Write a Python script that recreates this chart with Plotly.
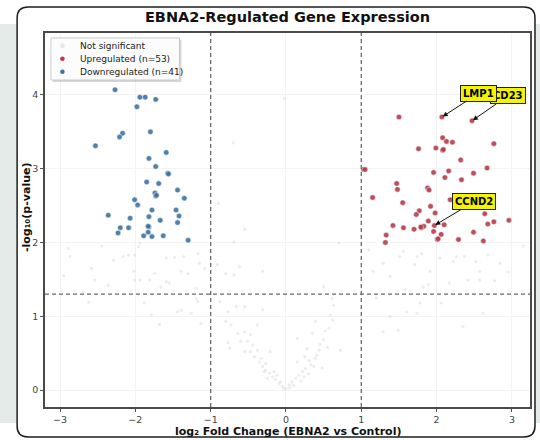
import plotly.graph_objects as go

# ---------------- data ----------------
down_fc = [-2.27, -1.94, -1.87, -1.73, -1.98, -2.17, -2.21, -1.80, -2.53, -1.59,
           -1.82, -1.73, -1.57, -1.85, -1.69, -1.74, -1.73, -1.44, -2.01, -1.97,
           -1.35, -1.78, -1.46, -2.36, -1.82, -1.42, -2.07, -1.67, -1.44, -2.20,
           -2.09, -1.82, -2.23, -1.83, -1.89, -1.78, -1.63, -1.30, -1.56, -1.83, -1.72]
down_p = [4.07, 3.97, 3.97, 3.94, 3.84, 3.48, 3.43, 3.50, 3.31, 3.22,
          3.14, 3.03, 2.94, 2.82, 2.80, 2.67, 2.63, 2.71, 2.58, 2.51,
          2.60, 2.44, 2.44, 2.37, 2.35, 2.36, 2.33, 2.30, 2.27, 2.20,
          2.20, 2.21, 2.13, 2.14, 2.09, 2.08, 2.09, 2.03, 2.93, 2.22, 2.64]

up_fc = [1.50, 2.07, 2.47, 2.08, 2.13, 2.21, 2.76, 1.76, 1.99, 2.08,
         2.32, 2.67, 1.03, 1.96, 2.16, 2.49, 2.11, 2.33, 1.47, 1.48,
         1.88, 1.90, 1.15, 1.55, 2.18, 1.92, 1.77, 1.73, 1.98, 2.64,
         1.89, 1.42, 1.56, 1.70, 1.80, 1.83, 1.97, 2.10, 1.96, 2.68,
         2.76, 2.96, 1.33, 1.32, 2.06, 2.49, 2.01, 2.29, 2.62, 1.05,
         2.09, 1.79, 2.02]
up_p = [3.70, 3.70, 3.65, 3.42, 3.37, 3.36, 3.34, 3.27, 3.28, 3.25,
        3.12, 3.01, 2.99, 2.95, 2.97, 2.94, 2.88, 2.85, 2.80, 2.72,
        2.74, 2.71, 2.61, 2.54, 2.58, 2.49, 2.43, 2.38, 2.40, 2.39,
        2.29, 2.23, 2.20, 2.18, 2.20, 2.22, 2.23, 2.24, 2.15, 2.25,
        2.28, 2.30, 2.10, 2.00, 2.11, 2.14, 2.04, 2.04, 2.02, 2.99,
        3.26, 2.21, 2.05]

ns_fc = [-2.89, -2.87, -2.58, -2.54, -2.62, -2.29, -2.16, -2.09, -2.01, -1.96,
         -1.94, -2.02, -2.01, -1.94, -2.36, -1.81, -1.74, -1.59, -1.48, -1.36,
         -1.39, -1.30, -1.59, -1.55, -1.66, -1.17, -1.15, -1.08, -1.19, -1.88,
         -1.79, -1.68, -1.44, -1.39, -1.26, -1.17, -1.13, -1.19, -2.69, -2.95, -2.45,
         -0.91, -0.80, -0.69, -0.62, -0.31, -0.69, -0.55, -0.88, -0.77, -0.66,
         -0.55, -0.80, -0.73, -0.64, -0.55, -0.60, -0.51, -0.44, -0.77, -0.75,
         -0.38, -0.31, -0.47, -0.42, -0.35, -0.31, -0.27, -0.22, -0.18, -0.14,
         -0.09, -0.05, 0.00, -0.29, -0.25, -0.21, -0.38, -0.55, -0.16, -0.12,
         -0.07, -0.33, -0.27, -0.47, -0.70, -0.02, -0.90,
         -0.03, 0.04, 0.08, 0.13, 0.17, 0.22, 0.26, 0.33, 0.37, 0.15,
         0.39, 0.41, 0.28, 0.44, 0.72, 0.50, 0.15, 0.35, 0.57, 0.39,
         0.59, 0.63, 0.61, 0.50, 0.70, 0.05, 0.10, 0.20, 0.24, 0.30,
         0.31, 0.45, 0.52, 0.62, 0.25, 0.48, 0.55,
         1.29, 1.49, 1.38, 1.60, 1.74, 1.78, 2.06, 2.35, 2.62, 1.58,
         1.82, 1.89, 2.17, 2.42, 2.57, 2.77, 1.16, 1.38, 1.29, 1.51,
         1.56, 1.71, 1.74, 1.80, 2.04, 2.22, 2.26, 2.37, 2.68, 1.91,
         2.57, 2.84, 3.15, 2.52, 2.95, 1.10, 1.20]
ns_p = [1.92, 1.81, 1.65, 1.49, 1.19, 1.76, 1.81, 1.83, 1.83, 1.94,
        1.99, 1.61, 1.49, 1.49, 1.42, 1.49, 1.58, 1.79, 1.80, 1.81,
        1.61, 1.58, 1.47, 1.45, 1.40, 1.85, 1.72, 1.65, 1.38, 1.18,
        1.02, 0.89, 1.06, 1.08, 1.04, 1.20, 0.90, 1.24, 1.33, 1.55, 1.95,
        1.70, 1.58, 1.56, 1.67, 1.61, 2.01, 2.18, 1.20, 1.06, 1.13,
        1.13, 0.93, 0.88, 0.77, 0.79, 0.66, 0.66, 0.61, 0.64, 0.57,
        0.88, 1.09, 0.52, 0.45, 0.38, 0.32, 0.27, 0.23, 0.18, 0.14,
        0.09, 0.05, 0.02, 0.25, 0.16, 0.52, 0.54, 0.52, 0.25, 0.20,
        0.11, 0.43, 0.36, 0.75, 3.35, 3.95, 2.53,
        0.02, 0.07, 0.11, 0.16, 0.20, 0.25, 0.29, 0.34, 0.32, 0.38,
        0.43, 0.47, 0.56, 0.54, 0.54, 0.68, 0.70, 0.77, 0.84, 0.93,
        1.02, 1.15, 1.24, 1.40, 1.99, 0.03, 0.06, 0.12, 0.18, 0.22,
        0.40, 0.62, 0.80, 0.95, 0.45, 0.30, 0.58,
        0.79, 0.81, 1.00, 1.06, 1.04, 1.18, 1.18, 0.86, 1.04, 1.36,
        1.40, 1.43, 1.45, 1.49, 1.49, 1.48, 1.61, 1.54, 1.72, 1.81,
        1.88, 1.70, 1.81, 1.85, 1.79, 1.74, 1.81, 1.81, 1.83, 1.61,
        1.61, 1.72, 1.95, 1.74, 1.60, 1.90, 1.25]

label_genes = ["CD23", "LMP1", "CCND2"]
label_index = [2, 1, 36]          # positions in the upregulated arrays
label_offsets = [(36, -25), (37, -24), (40, -24)]

fc_threshold = 1.0
p_threshold_line = 1.3            # -log10(0.05)

x_ticks = [-3, -2, -1, 0, 1, 2, 3]
y_ticks = [0, 1, 2, 3, 4]

title_text = "EBNA2-Regulated Gene Expression"
x_title = "log\u2082 Fold Change (EBNA2 vs Control)"
y_title = "-log\u2081\u2080(p-value)"

ns_color = "rgba(195,195,195,0.32)"
up_color = "#b13f4c"
down_color = "#3f73a1"

# ---------------- geometry helpers (plot area: l=45 r=532 t=33 b=407) ----------------
W, H = 540, 440
L, R, T, B = 45, 532, 33, 407
def fx(px):
    return (px - L) / (R - L)
def fy(py):
    return (B - py) / (B - T)

FONT = "DejaVu Sans"

fig = go.Figure()

fig.add_trace(go.Scatter(
    x=ns_fc, y=ns_p, mode="markers", name="Not significant",
    marker=dict(size=3.2, color=ns_color, line=dict(width=0)),
    showlegend=False, hoverinfo="skip"))
fig.add_trace(go.Scatter(
    x=up_fc, y=up_p, mode="markers", name=f"Upregulated (n={len(up_fc)})",
    marker=dict(size=5.5, color=up_color, opacity=0.9, line=dict(width=0.5, color="white")),
    showlegend=False))
fig.add_trace(go.Scatter(
    x=down_fc, y=down_p, mode="markers", name=f"Downregulated (n={len(down_fc)})",
    marker=dict(size=5.5, color=down_color, opacity=0.9, line=dict(width=0.5, color="white")),
    showlegend=False))

shapes = []
# page panel behind the card
shapes.append(dict(type="rect", xref="paper", yref="paper", layer="below",
                   x0=fx(-5), x1=fx(545), y0=fy(423), y1=fy(24),
                   fillcolor="#e4ebe8", line=dict(width=0)))
# rounded card
x0, x1, y0, y1 = fx(17), fx(537), fy(437), fy(7)
rx, ry = 11 / (R - L), 11 / (B - T)
path = (f"M {x0+rx},{y1} L {x1-rx},{y1} Q {x1},{y1} {x1},{y1-ry} "
        f"L {x1},{y0+ry} Q {x1},{y0} {x1-rx},{y0} L {x0+rx},{y0} "
        f"Q {x0},{y0} {x0},{y0+ry} L {x0},{y1-ry} Q {x0},{y1} {x0+rx},{y1} Z")
shapes.append(dict(type="path", xref="paper", yref="paper", layer="below", path=path,
                   fillcolor="white", line=dict(color="#1e1e1e", width=1.5)))
# threshold lines
dash = "4px,3px"
for xv in (-fc_threshold, fc_threshold):
    shapes.append(dict(type="line", xref="x", yref="paper", layer="above",
                       x0=xv, x1=xv, y0=0, y1=1, line=dict(color="#6a6a6a", width=1.3, dash=dash)))
shapes.append(dict(type="line", xref="paper", yref="y", layer="above",
                   x0=0, x1=1, y0=p_threshold_line, y1=p_threshold_line,
                   line=dict(color="#6a6a6a", width=1.3, dash=dash)))
# manual legend box (shadow + box)
shapes.append(dict(type="rect", xref="paper", yref="paper", layer="above",
                   x0=fx(53), x1=fx(182), y0=fy(82), y1=fy(40),
                   fillcolor="rgba(90,90,90,0.25)", line=dict(width=0)))
shapes.append(dict(type="rect", xref="paper", yref="paper", layer="above",
                   x0=fx(51), x1=fx(180), y0=fy(80), y1=fy(38),
                   fillcolor="rgba(255,255,255,0.92)", line=dict(color="#c8c8c8", width=1)))

legend_rows = [("Not significant", "rgba(215,215,215,0.6)", 45.7),
               (f"Upregulated (n={len(up_fc)})", up_color, 58.7),
               (f"Downregulated (n={len(down_fc)})", down_color, 71.7)]
annotations = []
for label, col, py in legend_rows:
    shapes.append(dict(type="circle", xref="paper", yref="paper", layer="above",
                       xsizemode="pixel", ysizemode="pixel",
                       xanchor=fx(62.5), yanchor=fy(py), x0=-2.3, x1=2.3, y0=-2.3, y1=2.3,
                       fillcolor=col, line=dict(width=0)))
    annotations.append(dict(xref="paper", yref="paper", x=fx(78), y=fy(py),
                            xanchor="left", yanchor="middle", showarrow=False,
                            text=label, font=dict(family=FONT, size=9, color="#222")))

# gene labels
for gene, idx, (ax, ay) in zip(label_genes, label_index, label_offsets):
    annotations.append(dict(
        x=up_fc[idx], y=up_p[idx], xref="x", yref="y", text=f"<b>{gene}</b>",
        showarrow=True, ax=ax, ay=ay, arrowhead=2, arrowsize=1, arrowwidth=1,
        arrowcolor="#111", standoff=1,
        font=dict(family=FONT, size=10, color="black"),
        bgcolor="#f4f400", bordercolor="#222", borderwidth=1, borderpad=2))

# axis titles
annotations.append(dict(xref="paper", yref="paper", x=0.5, y=fy(431), xanchor="center",
                        yanchor="middle", showarrow=False, text=x_title,
                        font=dict(family=FONT, size=11, color="#111", weight="bold")))
annotations.append(dict(xref="paper", yref="paper", x=fx(26), y=fy(207), xanchor="center",
                        yanchor="middle", showarrow=False, text=y_title, textangle=-90,
                        font=dict(family=FONT, size=11, color="#111", weight="bold")))

axis_common = dict(showline=True, mirror=True, linecolor="#4a4a4a", linewidth=1.5,
                   ticks="outside", ticklen=3, tickwidth=1, tickcolor="#555",
                   showgrid=True, gridcolor="#f3f3f3", gridwidth=1, zeroline=False,
                   tickfont=dict(family=FONT, size=9.5, color="#444"))

fig.update_layout(
    width=W, height=H,
    margin=dict(l=L, r=W - R, t=T, b=H - B),
    paper_bgcolor="white", plot_bgcolor="rgba(0,0,0,0)",
    showlegend=False,
    title=dict(text=title_text, x=0.5, xref="paper", y=1 - 17 / H, yref="container",
               xanchor="center", yanchor="middle",
               font=dict(family=FONT, size=14.5, color="#111", weight="bold")),
    xaxis=dict(range=[-3.2, 3.24], tickvals=x_ticks, **axis_common),
    yaxis=dict(range=[-0.23, 4.84], tickvals=y_ticks, **axis_common),
    shapes=shapes, annotations=annotations,
)

fig.write_html("out.html", config={"displayModeBar": False},
               post_script="document.body.style.margin='0';document.body.style.padding='0';")
